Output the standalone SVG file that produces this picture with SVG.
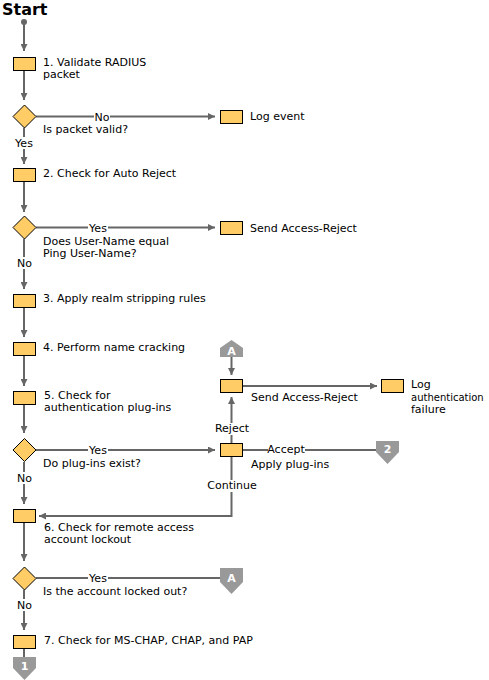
<svg xmlns="http://www.w3.org/2000/svg" width="489" height="680" viewBox="0 0 489 680">
<defs>
<style>
.t{font-family:"DejaVu Sans",Verdana,sans-serif;font-size:11px;fill:#000}
.c{text-anchor:middle}
.box{fill:#FFCC66;stroke:#000;stroke-width:1}
.ln{fill:none;stroke:#666;stroke-width:2}
.ar{marker-end:url(#arr)}
.off{fill:#999}
.ol{font-family:"DejaVu Sans",Verdana,sans-serif;font-size:11px;font-weight:bold;fill:#fff;text-anchor:middle}
.bg{fill:#fff}
</style>
<marker id="arr" viewBox="0 0 10 10" refX="10" refY="5" markerWidth="8" markerHeight="7" markerUnits="userSpaceOnUse" orient="auto">
<path d="M0,0 L10,5 L0,10 z" fill="#666"/>
</marker>
</defs>
<rect width="489" height="680" fill="#fff"/>

<text x="2" y="15" style="font-family:'DejaVu Sans',Verdana,sans-serif;font-size:16px;font-weight:bold">Start</text>

<g id="connectors">
<circle cx="24" cy="22" r="3" fill="#666"/>
<line class="ln ar" x1="24" y1="22" x2="24" y2="51"/>
<line class="ln ar" x1="24" y1="71" x2="24" y2="100"/>
<line class="ln ar" x1="24" y1="128" x2="24" y2="164"/>
<line class="ln ar" x1="24" y1="182" x2="24" y2="212"/>
<line class="ln ar" x1="24" y1="239" x2="24" y2="289"/>
<line class="ln ar" x1="24" y1="308" x2="24" y2="337"/>
<line class="ln ar" x1="24" y1="356" x2="24" y2="386"/>
<line class="ln ar" x1="24" y1="405" x2="24" y2="433"/>
<line class="ln ar" x1="24" y1="462" x2="24" y2="504"/>
<line class="ln ar" x1="24" y1="523" x2="24" y2="561"/>
<line class="ln ar" x1="24" y1="590" x2="24" y2="630"/>
<line class="ln" x1="24" y1="649" x2="24" y2="658"/>
<line class="ln ar" x1="36" y1="116.5" x2="215" y2="116.5"/>
<line class="ln ar" x1="36" y1="227.5" x2="215" y2="227.5"/>
<line class="ln ar" x1="36" y1="450" x2="215" y2="450"/>
<line class="ln" x1="36" y1="578" x2="221" y2="578"/>
<line class="ln" x1="243" y1="450" x2="377" y2="450"/>
<line class="ln ar" x1="243" y1="386" x2="377" y2="386"/>
<line class="ln ar" x1="231.5" y1="443" x2="231.5" y2="397"/>
<line class="ln ar" x1="231.5" y1="356" x2="231.5" y2="375"/>
<polyline class="ln ar" points="231.5,457 231.5,516 39,516"/>
<rect class="bg" x="94" y="110" width="16" height="12"/>
<text class="t c" x="102" y="120.5">No</text>
<rect class="bg" x="15" y="137" width="20" height="12"/>
<text class="t c" x="24" y="147">Yes</text>
<rect class="bg" x="88" y="221" width="20" height="12"/>
<text class="t c" x="98" y="231.5">Yes</text>
<rect class="bg" x="16" y="257" width="17" height="12"/>
<text class="t c" x="24.5" y="267">No</text>
<rect class="bg" x="88" y="444" width="20" height="12"/>
<text class="t c" x="98" y="454">Yes</text>
<rect class="bg" x="16" y="472" width="17" height="12"/>
<text class="t c" x="24.5" y="482">No</text>
<rect class="bg" x="88" y="572" width="20" height="12"/>
<text class="t c" x="98" y="582">Yes</text>
<rect class="bg" x="16" y="599" width="17" height="12"/>
<text class="t c" x="24.5" y="609">No</text>
<rect class="bg" x="215" y="423" width="34" height="12"/>
<text class="t c" x="232" y="432">Reject</text>
<rect class="bg" x="268" y="444" width="37" height="12"/>
<text class="t c" x="286" y="453">Accept</text>
<rect class="bg" x="207" y="480" width="50" height="12"/>
<text class="t c" x="232" y="489">Continue</text>
</g>

<g id="n1"><rect class="box" x="13.5" y="57.5" width="22" height="13"/>
<text class="t" x="43" y="66">1. Validate RADIUS</text><text class="t" x="43" y="78">packet</text></g>
<g id="d1"><polygon class="box" points="24.5,105 36,116.5 24.5,128 13,116.5"/>
<text class="t" x="43" y="133">Is packet valid?</text></g>
<g id="log1"><rect class="box" x="220.5" y="110.5" width="22" height="13"/>
<text class="t" x="250" y="120">Log event</text></g>
<g id="n2"><rect class="box" x="13.5" y="168.5" width="22" height="13"/>
<text class="t" x="43" y="177">2. Check for Auto Reject</text></g>
<g id="d2"><polygon class="box" points="24.5,216 36,227.5 24.5,239 13,227.5"/>
<text class="t" x="43" y="245">Does User-Name equal</text><text class="t" x="43" y="257">Ping User-Name?</text></g>
<g id="rej1"><rect class="box" x="220.5" y="221.5" width="22" height="13"/>
<text class="t" x="250" y="232">Send Access-Reject</text></g>
<g id="n3"><rect class="box" x="13.5" y="294.5" width="22" height="13"/>
<text class="t" x="43" y="302">3. Apply realm stripping rules</text></g>
<g id="n4"><rect class="box" x="13.5" y="342.5" width="22" height="13"/>
<text class="t" x="43" y="351">4. Perform name cracking</text></g>
<g id="n5"><rect class="box" x="13.5" y="391.5" width="22" height="13"/>
<text class="t" x="44" y="399">5. Check for</text><text class="t" x="44" y="411">authentication plug-ins</text></g>
<g id="d3"><polygon class="box" points="24.5,438.5 36,450 24.5,461.5 13,450"/>
<text class="t" x="43" y="467">Do plug-ins exist?</text></g>
<g id="offA1"><polygon class="off" points="231.5,340 243,348 243,357 220,357 220,348"/>
<text class="ol" x="231.5" y="355">A</text></g>
<g id="rej2"><rect class="box" x="220.5" y="379.5" width="22" height="13"/>
<text class="t" x="251" y="401">Send Access-Reject</text></g>
<g id="log2"><rect class="box" x="381.5" y="379.5" width="22" height="13"/>
<text class="t" x="411" y="388">Log</text><text class="t" x="411" y="401" style="font-size:10px">authentication</text><text class="t" x="411" y="413">failure</text></g>
<g id="apply"><rect class="box" x="220.5" y="443.5" width="22" height="13"/>
<text class="t" x="251" y="468">Apply plug-ins</text></g>
<g id="off2"><polygon class="off" points="376,441 399,441 399,452 387.5,464 376,452"/>
<text class="ol" x="387.5" y="453">2</text></g>
<g id="n6"><rect class="box" x="13.5" y="509.5" width="22" height="13"/>
<text class="t" x="44" y="531">6. Check for remote access</text><text class="t" x="44" y="543">account lockout</text></g>
<g id="d4"><polygon class="box" points="24.5,567 36,578.5 24.5,590 13,578.5"/>
<text class="t" x="43" y="595">Is the account locked out?</text></g>
<g id="offA2"><polygon class="off" points="220,568 243,568 243,582 231.5,594 220,582"/>
<text class="ol" x="231.5" y="582">A</text></g>
<g id="n7"><rect class="box" x="13.5" y="635.5" width="22" height="13"/>
<text class="t" x="44" y="644">7. Check for MS-CHAP, CHAP, and PAP</text></g>
<g id="off1"><polygon class="off" points="13,657 36,657 36,668 24.5,680 13,668"/>
<text class="ol" x="24.5" y="670">1</text></g>
</svg>
